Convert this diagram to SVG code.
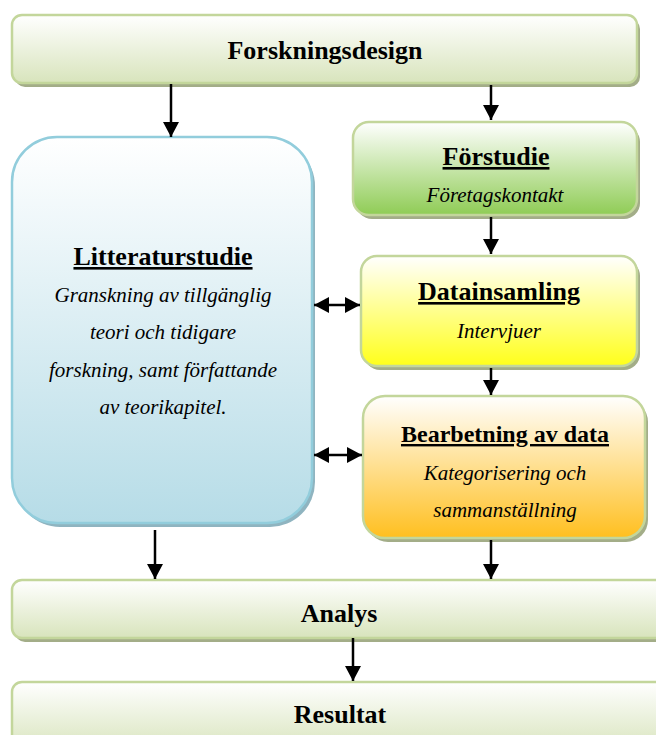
<svg xmlns="http://www.w3.org/2000/svg" width="656" height="735" viewBox="0 0 656 735" font-family="'Liberation Serif', 'Times New Roman', Times, serif">
<defs>
<linearGradient id="gOlive" x1="0" y1="0" x2="0" y2="1"><stop offset="0" stop-color="#ffffff"/><stop offset="1" stop-color="#d8e4bc"/></linearGradient>
<linearGradient id="gBlue" x1="0" y1="0" x2="0" y2="1"><stop offset="0" stop-color="#ffffff"/><stop offset="1" stop-color="#b6dce7"/></linearGradient>
<linearGradient id="gGreen" x1="0" y1="0" x2="0" y2="1"><stop offset="0" stop-color="#ffffff"/><stop offset="1" stop-color="#8fcc55"/></linearGradient>
<linearGradient id="gYellow" x1="0" y1="0" x2="0" y2="1"><stop offset="0" stop-color="#ffffff"/><stop offset="1" stop-color="#ffff1a"/></linearGradient>
<linearGradient id="gOrange" x1="0" y1="0" x2="0" y2="1"><stop offset="0" stop-color="#ffffff"/><stop offset="1" stop-color="#ffbf1f"/></linearGradient>
<marker id="ah" markerWidth="16" markerHeight="16" refX="15" refY="8" orient="auto-start-reverse" markerUnits="userSpaceOnUse"><path d="M0,0 L15,8 L0,16 Z" fill="#000"/></marker>
</defs>
<style>
.sh{fill:#a3ad88}
.shb{fill:#8fb4c0}
.bx{stroke:#c3d69b;stroke-width:2.5}
.bb{stroke:#92cddc;stroke-width:2.5}
.t{font-weight:bold;fill:#000;text-anchor:middle;font-size:26px}
.u{text-decoration:underline}
.i{font-style:italic;fill:#000;text-anchor:middle;font-size:21px}
.c{stroke:#000;stroke-width:2.5;fill:none;marker-end:url(#ah)}
.d{stroke:#000;stroke-width:2.5;fill:none;marker-end:url(#ah);marker-start:url(#ah)}
</style>
<rect width="656" height="735" fill="#fff"/>

<g id="forskningsdesign">
<rect class="sh" x="15" y="19" width="625" height="68" rx="10"/>
<rect class="bx" x="12" y="15" width="625" height="68" rx="10" fill="url(#gOlive)"/>
<text class="t" x="325" y="59">Forskningsdesign</text>
</g>

<g id="litteraturstudie">
<rect class="shb" x="15" y="141" width="300" height="386" rx="45"/>
<rect class="bb" x="12" y="137" width="300" height="386" rx="45" fill="url(#gBlue)"/>
<text class="t u" x="163" y="265">Litteraturstudie</text>
<text class="i" x="163" y="302">Granskning av tillgänglig</text>
<text class="i" x="163" y="339">teori och tidigare</text>
<text class="i" x="163" y="377">forskning, samt författande</text>
<text class="i" x="163" y="414">av teorikapitel.</text>
</g>

<g id="forstudie">
<rect class="sh" x="356" y="126" width="284" height="93" rx="16"/>
<rect class="bx" x="353" y="122" width="284" height="93" rx="16" fill="url(#gGreen)"/>
<text class="t u" x="496" y="165">Förstudie</text>
<text class="i" x="495" y="202">Företagskontakt</text>
</g>

<g id="datainsamling">
<rect class="sh" x="364" y="260" width="276" height="110" rx="16"/>
<rect class="bx" x="361" y="256" width="276" height="110" rx="16" fill="url(#gYellow)"/>
<text class="t u" x="499" y="300">Datainsamling</text>
<text class="i" x="499" y="338">Intervjuer</text>
</g>

<g id="bearbetning">
<rect class="sh" x="366" y="400" width="282" height="142" rx="22"/>
<rect class="bx" x="363" y="396" width="282" height="142" rx="22" fill="url(#gOrange)"/>
<text class="t u" x="505" y="442" font-size="24" style="font-size:24px">Bearbetning av data</text>
<text class="i" x="505" y="480">Kategorisering och</text>
<text class="i" x="505" y="517">sammanställning</text>
</g>

<g id="analys">
<rect class="sh" x="15" y="584" width="656" height="58" rx="10"/>
<rect class="bx" x="12" y="580" width="656" height="58" rx="10" fill="url(#gOlive)"/>
<text class="t" x="339" y="622">Analys</text>
</g>

<g id="resultat">
<rect class="sh" x="15" y="686" width="656" height="70" rx="10"/>
<rect class="bx" x="12" y="682" width="656" height="70" rx="10" fill="url(#gOlive)"/>
<text class="t" x="340" y="723">Resultat</text>
</g>

<g id="connectors">
<line class="c" x1="171" y1="84" x2="171" y2="137"/>
<line class="c" x1="491" y1="85" x2="491" y2="120"/>
<line class="c" x1="491" y1="217" x2="491" y2="254"/>
<line class="c" x1="491" y1="368" x2="491" y2="395"/>
<line class="d" x1="314" y1="305" x2="360" y2="305"/>
<line class="d" x1="314" y1="455" x2="362" y2="455"/>
<line class="c" x1="155" y1="530" x2="155" y2="579"/>
<line class="c" x1="491" y1="540" x2="491" y2="579"/>
<line class="c" x1="353" y1="638" x2="353" y2="681"/>
</g>
</svg>
